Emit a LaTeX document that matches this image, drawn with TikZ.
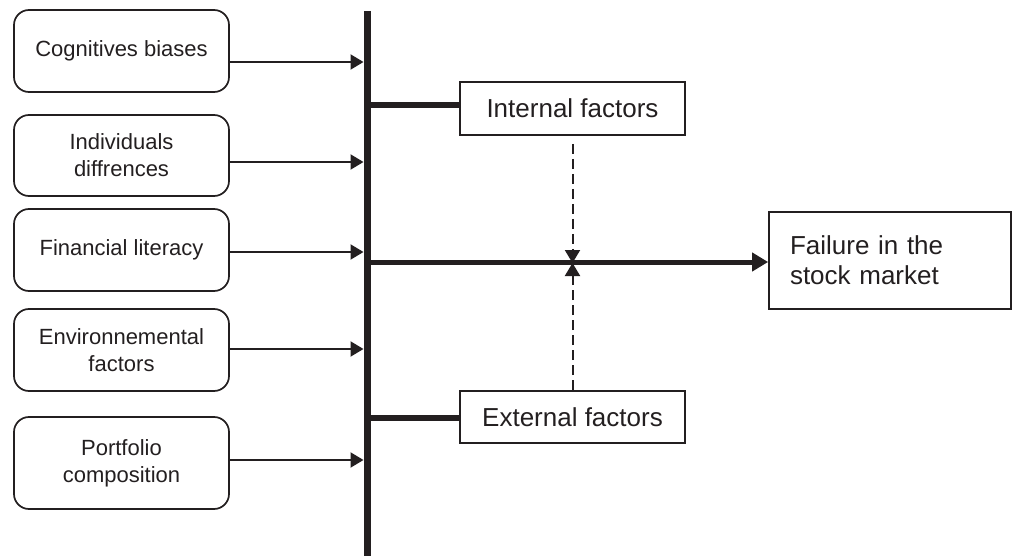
\documentclass[tikz,border=0pt]{standalone}
\usepackage{fontspec}
\setmainfont{Liberation Sans}
\usetikzlibrary{arrows.meta}
\definecolor{ink}{HTML}{231F20}
\begin{document}
\begin{tikzpicture}[x=1pt,y=-1pt,
  leftbox/.style={draw=ink, text=ink, line width=1.7pt, rounded corners=15pt, minimum width=215pt, align=center, font=\fontsize{22}{27}\selectfont, inner sep=0pt},
  factorbox/.style={draw=ink, text=ink, line width=1.7pt, minimum width=225pt, font=\fontsize{26}{30}\selectfont, inner sep=0pt},
  thinarrow/.style={draw=ink, line width=2pt, -{Triangle[length=13pt,width=15pt]}},
  bus/.style={draw=ink, line width=7pt},
  branch/.style={draw=ink, line width=6.5pt},
  mainline/.style={draw=ink, line width=5pt, -{Triangle[length=16pt,width=18pt]}},
  dasharrow/.style={draw=ink, line width=2pt, dash pattern=on 10pt off 5pt, -{Triangle[length=13pt,width=15pt]}}]
\useasboundingbox (0,0) rectangle (1012,556);

% left boxes
\node[leftbox, minimum height=82pt] (b1) at (121.5,51) {Cognitives biases};
\node[leftbox, minimum height=81pt] (b2) at (121.5,155.5) {Individuals\\diffrences};
\node[leftbox, minimum height=82pt] (b3) at (121.5,250) {Financial literacy};
\node[leftbox, minimum height=82pt] (b4) at (121.5,350) {Environnemental\\factors};
\node[leftbox, minimum height=92pt] (b5) at (121.5,463) {Portfolio\\composition};

% factor boxes
\node[factorbox, minimum height=53pt] (int) at (572.5,108.5) {Internal factors};
\node[factorbox, minimum height=52pt] (ext) at (572.5,417) {External factors};

% outcome
\node[draw=ink, text=ink, line width=1.7pt, text width=200pt, inner xsep=21pt, inner ysep=0pt, minimum height=97pt, align=left, font=\fontsize{26}{30}\selectfont] (fail) at (890,260.5) {Failure in the\\stock market};

% vertical bus
\coordinate (vtop) at (367,11);
\coordinate (vbot) at (367,556);
\draw[bus] (vtop) -- (vbot);

% arrows into the bus
\coordinate (v1) at (363.5,62);
\coordinate (v2) at (363.5,162);
\coordinate (v3) at (363.5,252);
\coordinate (v4) at (363.5,349);
\coordinate (v5) at (363.5,460);
\draw[thinarrow] (b1.east |- v1) -- (v1);
\draw[thinarrow] (b2.east |- v2) -- (v2);
\draw[thinarrow] (b3.east |- v3) -- (v3);
\draw[thinarrow] (b4.east |- v4) -- (v4);
\draw[thinarrow] (b5.east |- v5) -- (v5);

% branches to factor boxes
\coordinate (vi) at (367,105);
\coordinate (ve) at (367,418);
\draw[branch] (vi) -- (int.west |- vi);
\draw[branch] (ve) -- (ext.west |- ve);

% main arrow
\coordinate (vm) at (367,262);
\draw[mainline] (vm) -- (fail.west |- vm);

% dashed arrows
\coordinate (cross) at (572.5,263);
\draw[dasharrow] ([yshift=-8pt]int.south) -- (cross);
\draw[dasharrow] (ext.north) -- (cross);
\end{tikzpicture}
\end{document}
